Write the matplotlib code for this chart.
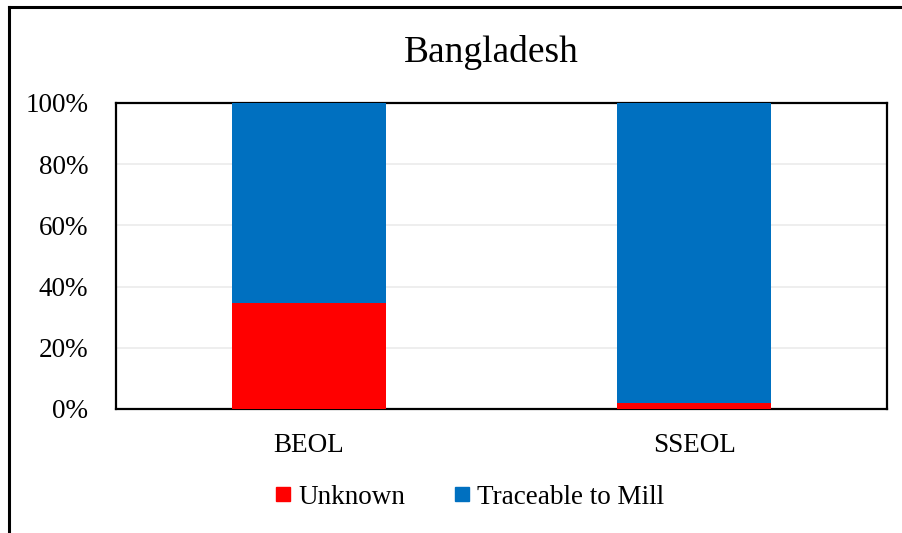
import numpy as np
import matplotlib.pyplot as plt
from matplotlib.lines import Line2D
from matplotlib.ticker import PercentFormatter

# ---------------- #

categories = ["BEOL", "SSEOL"]
unknown = np.array([34.5, 2])
traceable = np.array([65.5, 98])

c_unknown = "#FF0000"
c_trace = "#0070C0"

# ---------------- #

plt.rcParams['font.family'] = ['Liberation Serif', 'DejaVu Serif']

fig = plt.figure(figsize=(9.03, 5.33), dpi=100)
ax = fig.add_axes([116/903, 1 - 409/533, (887-116)/903, (409-103)/533])

x = np.arange(len(categories))
ax.bar(x, unknown, width=0.4, color=c_unknown, zorder=3)
ax.bar(x, traceable, width=0.4, bottom=unknown, color=c_trace, zorder=3)

ax.set_xlim(-0.5, 1.5)
ax.set_ylim(0, 100)
ax.set_yticks(np.arange(0, 101, 20))
ax.yaxis.set_major_formatter(PercentFormatter(decimals=0))
ax.set_xticks(x)
ax.set_xticklabels(categories)
ax.tick_params(length=0, labelsize=19.5)
ax.tick_params(axis='y', pad=20)
ax.tick_params(axis='x', pad=17)
ax.grid(axis='y', color='#EBEBEB', linewidth=1.2, zorder=0)
for s in ax.spines.values():
    s.set_linewidth(1.6)
    s.set_color('black')

fig.text(491/903, 1 - 52/533, "Bangladesh", fontsize=27, ha='center', va='center')

handles = [Line2D([], [], marker='s', linestyle='none', markersize=10, color=c_unknown),
           Line2D([], [], marker='s', linestyle='none', markersize=10, color=c_trace)]
fig.legend(handles, ["Unknown", "Traceable to Mill"], loc='center',
           bbox_to_anchor=(468/903, 1 - 497/533), ncol=2, frameon=False,
           fontsize=19.5, handletextpad=0.15, columnspacing=1.7, handlelength=0.8)

# Rahmen (abgeschnitten)
fig.add_artist(Line2D([9.5/903, 9.5/903], [0, 1 - 7/533], color='black', linewidth=2.2, transform=fig.transFigure))
fig.add_artist(Line2D([9.5/903, 1], [1 - 7/533, 1 - 7/533], color='black', linewidth=2.2, transform=fig.transFigure))

fig.savefig("out.png", dpi=100)
